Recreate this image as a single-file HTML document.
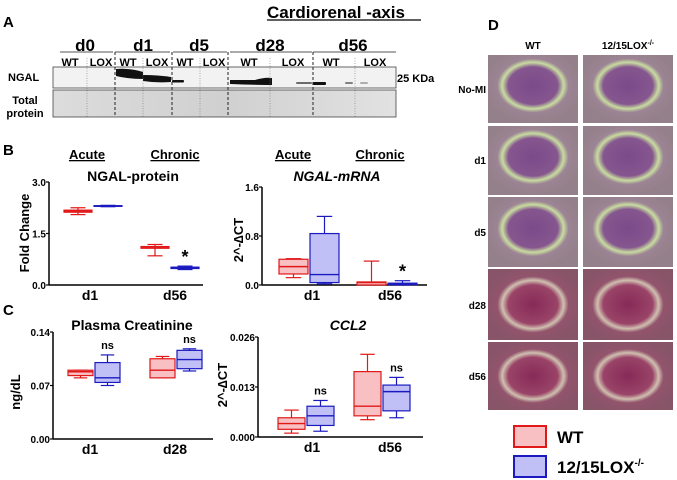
<!DOCTYPE html>
<html><head><meta charset="utf-8"><style>
html,body{margin:0;padding:0;background:#fff;}
svg{display:block;font-family:"Liberation Sans",Arial,sans-serif;font-weight:bold;}
</style></head><body>
<svg id="fig" width="677" height="480" viewBox="0 0 677 480" xmlns="http://www.w3.org/2000/svg">
<defs>
<radialGradient id="gP" cx="50%" cy="45%" r="55%"><stop offset="0" stop-color="#7a4a8a"/><stop offset="0.5" stop-color="#85568e"/><stop offset="0.62" stop-color="#c8dca0"/><stop offset="0.72" stop-color="#9c8494"/><stop offset="1" stop-color="#94808a"/></radialGradient>
<radialGradient id="gR" cx="50%" cy="50%" r="55%"><stop offset="0" stop-color="#862a58"/><stop offset="0.5" stop-color="#9a4468"/><stop offset="0.62" stop-color="#d0c0b0"/><stop offset="0.72" stop-color="#92546c"/><stop offset="1" stop-color="#885468"/></radialGradient>
<linearGradient id="gTP" x1="0" x2="1"><stop offset="0" stop-color="#dcdcdc"/><stop offset="0.5" stop-color="#d0d0d0"/><stop offset="1" stop-color="#e2e2e2"/></linearGradient>
</defs>

<g>
<text x="3" y="27" font-size="15">A</text>
<text x="267" y="18" font-size="17">Cardiorenal -axis</text>
<line x1="267" y1="20" x2="421" y2="20" stroke="#000" stroke-width="1.2"/>
<g font-size="17" text-anchor="middle">
<text x="85" y="51">d0</text>
<text x="143" y="51">d1</text>
<text x="199" y="51">d5</text>
<text x="270" y="51">d28</text>
<text x="353" y="51">d56</text>
</g>
<g stroke="#555" stroke-width="1"><line x1="60" y1="52" x2="113" y2="52"/><line x1="115" y1="52" x2="170" y2="52"/><line x1="173" y1="52" x2="227" y2="52"/><line x1="230" y1="52" x2="312" y2="52"/><line x1="313" y1="52" x2="396" y2="52"/></g>
<g font-size="11" text-anchor="middle">
<text x="70" y="66">WT</text><text x="101" y="66">LOX</text>
<text x="128" y="66">WT</text><text x="157" y="66">LOX</text>
<text x="185" y="66">WT</text><text x="214" y="66">LOX</text>
<text x="249" y="66">WT</text><text x="293" y="66">LOX</text>
<text x="331" y="66">WT</text><text x="375" y="66">LOX</text>
</g>
<text x="8" y="81" font-size="11">NGAL</text>
<text x="25" y="104" font-size="11" text-anchor="middle">Total</text>
<text x="25" y="117" font-size="11" text-anchor="middle">protein</text>
<rect x="53" y="67" width="343" height="21" fill="#f2f2f2" stroke="#444" stroke-width="0.8"/>
<rect x="53" y="90" width="343" height="27" fill="url(#gTP)" stroke="#444" stroke-width="0.8"/>
<g fill="#111">
<path d="M116 69 Q130 68 143 72 L143 79 Q128 79 116 76 Z"/>
<path d="M143 75 Q158 75 171 77 L171 82 Q156 83 143 81 Z"/>
<rect x="172" y="80" width="12" height="2.5" rx="1"/>
<path d="M230 80 L255 80 Q265 77 272 78 L272 85 Q255 85 230 84 Z"/>
<rect x="296" y="82" width="16" height="2" rx="1" opacity="0.6"/>
<rect x="313" y="82" width="13" height="3" rx="1"/>
<rect x="345" y="82" width="8" height="2" rx="1" opacity="0.5"/>
<rect x="360" y="82" width="8" height="2" rx="1" opacity="0.3"/>
</g>
<g stroke="#222" stroke-width="1" stroke-dasharray="3,2"><line x1="115" y1="52" x2="115" y2="117"/><line x1="172" y1="52" x2="172" y2="117"/><line x1="228" y1="52" x2="228" y2="117"/><line x1="313" y1="52" x2="313" y2="117"/></g>
<g stroke="#777" stroke-width="0.6" stroke-dasharray="1,1.5"><line x1="87" y1="58" x2="87" y2="117"/><line x1="143" y1="58" x2="143" y2="117"/><line x1="200" y1="58" x2="200" y2="117"/><line x1="270" y1="58" x2="270" y2="117"/><line x1="355" y1="58" x2="355" y2="117"/></g>
<text x="397" y="82" font-size="11">25 KDa</text>
</g>

<text x="3" y="155" font-size="15">B</text>
<text x="3" y="315" font-size="15">C</text>
<g font-size="13" text-decoration="underline" text-anchor="middle">
<text x="87" y="159">Acute</text>
<text x="175" y="159">Chronic</text>
<text x="293" y="159">Acute</text>
<text x="380" y="159">Chronic</text>
</g>
<g id="charts"></g>

<g>
<text x="488" y="30" font-size="15">D</text>
<text x="533" y="49" font-size="10" text-anchor="middle">WT</text>
<text x="628" y="49" font-size="10" text-anchor="middle">12/15LOX<tspan font-size="7" dy="-4">-/-</tspan></text>
<g font-size="10" text-anchor="end">
<text x="486" y="93">No-MI</text><text x="486" y="164">d1</text><text x="486" y="236">d5</text><text x="486" y="309">d28</text><text x="486" y="380">d56</text>
</g>
<g id="histo"></g>
<rect x="514" y="426" width="32" height="21" fill="#f8c0c2" stroke="#e01818" stroke-width="2"/>
<rect x="514" y="456" width="32" height="21" fill="#c0c0f6" stroke="#1a1ac0" stroke-width="2"/>
<text x="557" y="443" font-size="17">WT</text>
<text x="557" y="473" font-size="17">12/15LOX<tspan font-size="10" dy="-7">-/-</tspan></text>
</g>
</svg>
<script>
// Data: [min, q1, median, q3, max]
const ngalProtCats = ["d1","d56"];
const ngalProtWT = [[2.05,2.12,2.15,2.18,2.25],[0.85,1.07,1.10,1.12,1.18]];
const ngalProtLOX = [[2.28,2.29,2.30,2.31,2.32],[0.45,0.48,0.50,0.52,0.55]];
const ngalProtTicks = ["0.0","1.5","3.0"];
const ngalMrnaCats = ["d1","d56"];
const ngalMrnaWT = [[0.12,0.18,0.30,0.42,0.43],[0.0,0.0,0.04,0.05,0.39]];
const ngalMrnaLOX = [[0.02,0.04,0.17,0.84,1.12],[0.0,0.005,0.02,0.03,0.07]];
const ngalMrnaTicks = ["0.0","0.8","1.6"];
const creatCats = ["d1","d28"];
const creatWT = [[0.080,0.083,0.088,0.090,0.090],[0.080,0.080,0.090,0.105,0.108]];
const creatLOX = [[0.070,0.074,0.080,0.100,0.110],[0.089,0.092,0.104,0.116,0.118]];
const creatTicks = ["0.00","0.07","0.14"];
const ccl2Cats = ["d1","d56"];
const ccl2WT = [[0.001,0.002,0.0035,0.005,0.007],[0.0045,0.0055,0.008,0.017,0.0215]];
const ccl2LOX = [[0.0015,0.003,0.0055,0.008,0.0095],[0.005,0.0068,0.0118,0.0135,0.0155]];
const ccl2Ticks = ["0.000","0.013","0.026"];

const NS="http://www.w3.org/2000/svg";
function mk(p,t,a){const e=document.createElementNS(NS,t);for(const k in a)e.setAttribute(k,a[k]);p.appendChild(e);return e;}
const root=document.getElementById("charts");

function chart(cfg){
  const g=mk(root,"g",{});
  
  
  const y=v=>cfg.y0-(v-cfg.vmin)/(cfg.vmax-cfg.vmin)*(cfg.y0-cfg.y1);
  mk(g,"line",{x1:cfg.ax,y1:cfg.y1,x2:cfg.ax,y2:cfg.y0,stroke:"#000","stroke-width":1.5});
  mk(g,"line",{x1:cfg.ax,y1:cfg.y0,x2:cfg.axEnd,y2:cfg.y0,stroke:"#000","stroke-width":1.5});
  cfg.ticks.forEach((t,i)=>{
    const v=cfg.vmin+i*(cfg.vmax-cfg.vmin)/(cfg.ticks.length-1);
    mk(g,"line",{x1:cfg.ax-3,y1:y(v),x2:cfg.ax,y2:y(v),stroke:"#000","stroke-width":1.2});
    const tx=mk(g,"text",{x:cfg.ax-3,y:y(v)+4,"font-size":10,"text-anchor":"end"});tx.textContent=t;
    
    
  });
  const title=mk(g,"text",{x:cfg.tx,y:cfg.ty,"font-size":14,"text-anchor":"middle","font-style":cfg.italic?"italic":"normal"});
  title.textContent=cfg.title;
  
  
  const yl=mk(g,"text",{x:0,y:0,"font-size":13,"text-anchor":"middle",transform:`translate(${cfg.ylx},${cfg.yly}) rotate(-90)`});
  yl.textContent=cfg.ylabel;
  
  
  cfg.cats.forEach((c,i)=>{
    const cx=cfg.cx[i];
    const xl=mk(g,"text",{x:cfg.lx[i],y:cfg.y0+15,"font-size":14,"text-anchor":"middle"});xl.textContent=c;
    
    
    [[cfg.wt[i],"#f8c0c2","#e01818",-1,"wt"],[cfg.lox[i],"#c0c0f6","#1a1ac0",1,"lox"]].forEach(([d,f,s,side,nm])=>{
      const x0=side<0?cx-cfg.bw:cx, x1=x0+cfg.bw, xm=(x0+x1)/2;
      const bg=mk(g,"g",{});
      
      
      mk(bg,"line",{x1:xm,y1:y(d[0]),x2:xm,y2:y(d[4]),stroke:s,"stroke-width":1.2});
      mk(bg,"line",{x1:xm-cfg.bw*0.25,y1:y(d[0]),x2:xm+cfg.bw*0.25,y2:y(d[0]),stroke:s,"stroke-width":1.2});
      mk(bg,"line",{x1:xm-cfg.bw*0.25,y1:y(d[4]),x2:xm+cfg.bw*0.25,y2:y(d[4]),stroke:s,"stroke-width":1.2});
      mk(bg,"rect",{x:x0+1,y:y(d[3]),width:cfg.bw-2,height:Math.max(y(d[1])-y(d[3]),0.5),fill:f,stroke:s,"stroke-width":1.2});
      mk(bg,"line",{x1:x0+1,y1:y(d[2]),x2:x1-1,y2:y(d[2]),stroke:s,"stroke-width":1.4});
    });
    if(cfg.marks[i]){
      const m=mk(g,"text",{x:cx+cfg.bw/2,y:y(cfg.lox[i][4])-(cfg.marks[i]==="*"?3:6),"font-size":cfg.marks[i]==="*"?18:11,"text-anchor":"middle"});
      m.textContent=cfg.marks[i];
      
      
    }
  });
}
chart({name:"ngal-protein-chart",ax:49,axEnd:203,y0:285,y1:182,vmin:0,vmax:3,ticks:ngalProtTicks,title:"NGAL-protein",tx:133,ty:181,ylabel:"Fold Change",ylx:29,yly:233,cats:ngalProtCats,cx:[93,170],lx:[90,175],bw:30,wt:ngalProtWT,lox:ngalProtLOX,marks:["","*"]});
chart({name:"ngal-mrna-chart",ax:262,axEnd:427,y0:285,y1:187,vmin:0,vmax:1.6,ticks:ngalMrnaTicks,title:"NGAL-mRNA",italic:1,tx:337,ty:181,ylabel:"2^-\u2206CT",ylx:243,yly:240,cats:ngalMrnaCats,cx:[309,387],lx:[312,390],bw:31,wt:ngalMrnaWT,lox:ngalMrnaLOX,marks:["","*"]});
chart({name:"creatinine-chart",ax:53,axEnd:213,y0:439,y1:332,vmin:0,vmax:0.14,ticks:creatTicks,title:"Plasma Creatinine",tx:132,ty:330,ylabel:"ng/dL",ylx:20,yly:392,cats:creatCats,cx:[94,176],lx:[90,175],bw:27,wt:creatWT,lox:creatLOX,marks:["ns","ns"]});
chart({name:"ccl2-chart",ax:258,axEnd:423,y0:437,y1:337,vmin:0,vmax:0.026,ticks:ccl2Ticks,title:"CCL2",italic:1,tx:348,ty:330,ylabel:"2^-\u2206CT",ylx:227,yly:385,cats:ccl2Cats,cx:[306,382],lx:[312,390],bw:29,wt:ccl2WT,lox:ccl2LOX,marks:["ns","ns"]});

const hg=document.getElementById("histo");
const rowsY=[[55,123],[126,195],[197,267],[269,340],[342,410]];
const colsX=[[488,578],[583,673]];
rowsY.forEach((r,ri)=>colsX.forEach((c,ci)=>{
  const t=mk(hg,"rect",{x:c[0],y:r[0],width:c[1]-c[0],height:r[1]-r[0],fill:ri<3?"url(#gP)":"url(#gR)"});
  
  
}));
</script>
</body></html>
